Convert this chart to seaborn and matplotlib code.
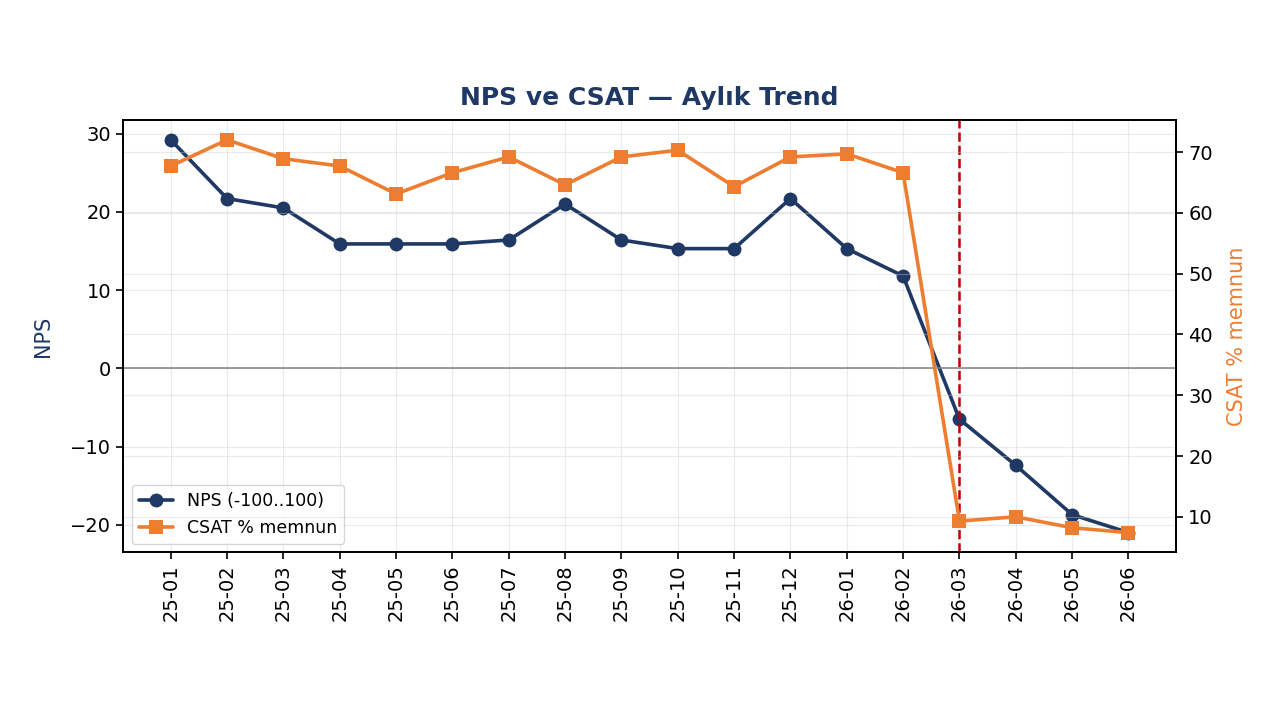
import pandas as pd
import matplotlib
matplotlib.use("Agg")
import matplotlib.pyplot as plt
import seaborn as sns

# Aylık veriler
aylar = ["25-01", "25-02", "25-03", "25-04", "25-05", "25-06", "25-07", "25-08", "25-09",
         "25-10", "25-11", "25-12", "26-01", "26-02", "26-03", "26-04", "26-05", "26-06"]
nps = [29.2, 21.7, 20.5, 15.9, 15.9, 15.9, 16.4, 21.0, 16.4,
       15.3, 15.3, 21.7, 15.3, 11.8, -6.5, -12.4, -18.7, -21.0]
csat = [67.7, 72.0, 68.9, 67.7, 63.1, 66.6, 69.2, 64.6, 69.2,
        70.3, 64.3, 69.2, 69.7, 66.6, 9.3, 10.0, 8.2, 7.4]
kirilma_ayi = "26-03"

df = pd.DataFrame({"ay": aylar, "nps": nps, "csat": csat})
df["x"] = range(len(df))

sns.set_style("ticks", {"axes.edgecolor": "black", "xtick.color": "black",
                        "ytick.color": "black", "text.color": "black",
                        "axes.labelcolor": "black"})
plt.rcParams["font.family"] = ["DejaVu Sans"]
plt.rcParams["axes.linewidth"] = 1.3
plt.rcParams["xtick.major.size"] = 5
plt.rcParams["ytick.major.size"] = 5
plt.rcParams["xtick.major.width"] = 1.2
plt.rcParams["ytick.major.width"] = 1.2

lacivert = "#1f3864"
turuncu = "#ed7d31"

fig, ax = plt.subplots(figsize=(12.8, 7.2), dpi=100)
fig.subplots_adjust(left=0.096, right=0.919, top=0.833, bottom=0.233)
ax2 = ax.twinx()

sns.lineplot(data=df, x="x", y="nps", ax=ax, color=lacivert, marker="o", markersize=10,
             linewidth=2.6, markeredgewidth=0, label="NPS (-100..100)", legend=False)
sns.lineplot(data=df, x="x", y="csat", ax=ax2, color=turuncu, marker="s", markersize=10,
             linewidth=2.6, markeredgewidth=0, label="CSAT % memnun", legend=False)

ax.axhline(0, color="grey", linewidth=1.1)
ax.axvline(aylar.index(kirilma_ayi), color="#c00000", linestyle="--", linewidth=1.8)

ax.grid(True, alpha=0.4)
ax2.grid(True, alpha=0.4)

ax.set_xticks(df["x"])
ax.set_xticklabels(aylar, rotation=90, fontsize=14)
ax.tick_params(axis="y", labelsize=14)
ax2.tick_params(axis="y", labelsize=14)
ax.set_xlabel("")
ax.set_ylabel("NPS", color=lacivert, fontsize=15, labelpad=12)
ax2.set_ylabel("CSAT % memnun", color=turuncu, fontsize=15, labelpad=10)
ax.set_title("NPS ve CSAT — Aylık Trend", color=lacivert, fontsize=18,
             fontweight="bold", pad=11)

h1, l1 = ax.get_legend_handles_labels()
h2, l2 = ax2.get_legend_handles_labels()
ax.legend(h1 + h2, l1 + l2, loc="lower left", fontsize=12.5)

plt.savefig("out.png", dpi=100)
